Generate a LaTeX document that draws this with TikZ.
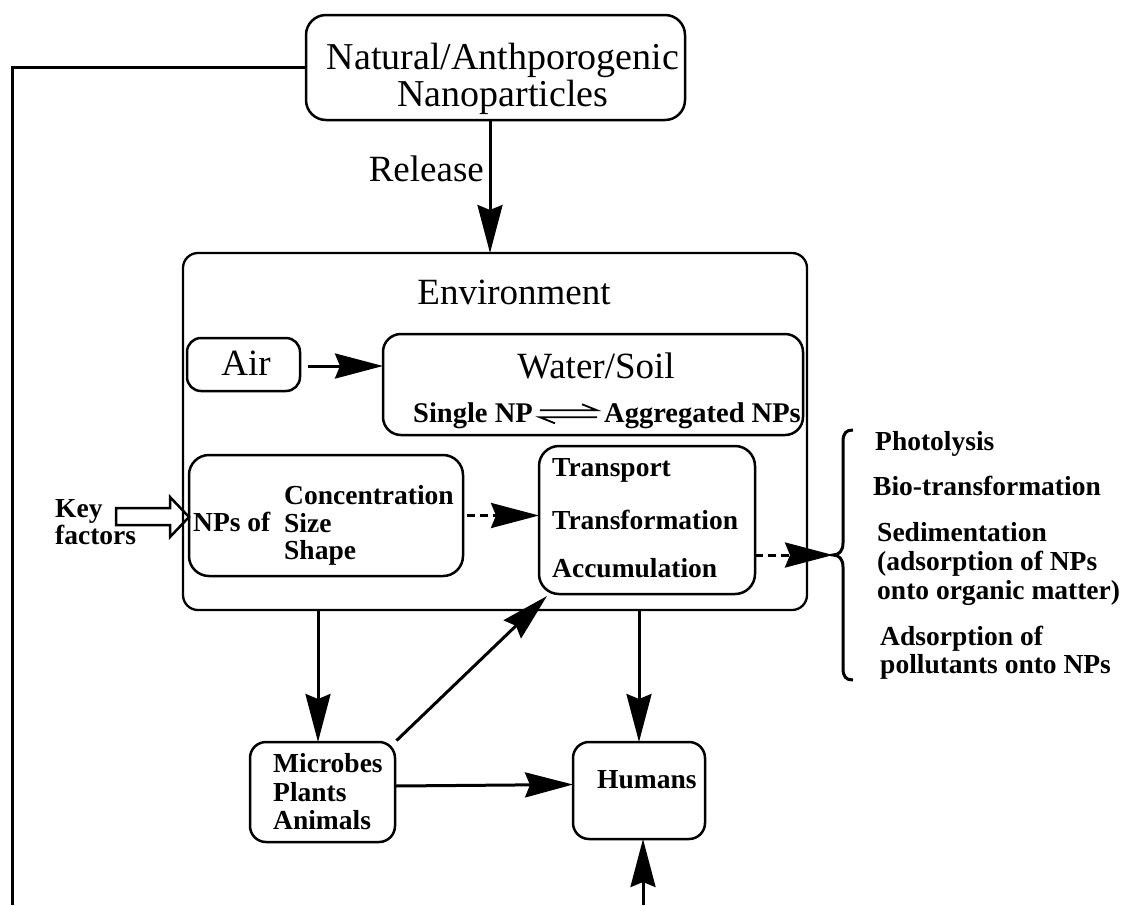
\documentclass[tikz,border=0pt]{standalone}
\usepackage{fontspec}
\setmainfont{Liberation Serif}
\usetikzlibrary{arrows.meta,calc}
\begin{document}
\begin{tikzpicture}[x=1pt,y=-1pt,
  boxn/.style={draw, line width=2.5pt, rounded corners=16pt, inner sep=0pt, outer sep=0pt},
  big/.style={font=\fontsize{37}{40}\selectfont, inner sep=0pt},
  bld/.style={font=\fontsize{27.5}{28}\selectfont\bfseries, inner sep=0pt},
  arr/.style={line width=3pt, -{Stealth[length=48pt, width=25pt, inset=5pt]}},
  darr/.style={arr, dash pattern=on 8pt off 5pt},
  plain/.style={line width=3pt}
]
\useasboundingbox (0,0) rectangle (1126,905);

% boxes
\node[boxn, minimum width=379pt, minimum height=105pt, rounded corners=20pt] (top) at (495.5,67.5) {};
\node[boxn, minimum width=624pt, minimum height=357pt, line width=2.3pt, rounded corners=15pt] (env) at (495,431.5) {};
\node[boxn, minimum width=113pt, minimum height=53pt, rounded corners=14pt] (air) at (243.5,364.5) {};
\node[boxn, minimum width=420pt, minimum height=101pt, rounded corners=18pt] (water) at (593,384.5) {};
\node[boxn, minimum width=274pt, minimum height=121pt, rounded corners=20pt] (nps) at (326,515.5) {};
\node[boxn, minimum width=216pt, minimum height=148pt, rounded corners=20pt] (trans) at (647,520) {};
\node[boxn, minimum width=145pt, minimum height=100pt, rounded corners=16pt] (mic) at (322.5,792) {};
\node[boxn, minimum width=132pt, minimum height=97pt, rounded corners=16pt] (hum) at (639,790.5) {};

% texts
\node[big, font=\fontsize{38}{37}\selectfont, align=center] (toptext) at (503,79) {Natural/Anthporogenic\\Nanoparticles};
\node[big, anchor=base east] (rel) at (484,181) {Release};
\node[big, anchor=base] (envt) at (514,304) {Environment};
\node[big, anchor=base] (airt) at (246,375) {Air};
\node[big, anchor=base] (watt) at (596,378) {Water/Soil};
\node[bld, font=\fontsize{28.5}{29}\selectfont\bfseries, anchor=base west] (sing) at (413,422) {Single NP};
\node[bld, font=\fontsize{28.5}{29}\selectfont\bfseries, anchor=base east] (aggr) at (801,422) {Aggregated NPs};
\node[bld, anchor=base west] (npsof) at (193,531) {NPs of};
\node[bld, anchor=base west] (conc) at (284,504) {Concentration};
\node[bld, anchor=base west] (size) at (284,532) {Size};
\node[bld, anchor=base west] (shape) at (284,559) {Shape};
\node[bld, anchor=base west] (key) at (55,517) {Key};
\node[bld, anchor=base west] (fact) at (55,544) {factors};
\node[bld, anchor=base west] (tr1) at (552,476) {Transport};
\node[bld, anchor=base west] (tr2) at (552,529) {Transformation};
\node[bld, anchor=base west] (tr3) at (552,577) {Accumulation};
\node[bld, anchor=base west] (m1) at (273,772) {Microbes};
\node[bld, anchor=base west] (m2) at (273,801) {Plants};
\node[bld, anchor=base west] (m3) at (273,829) {Animals};
\node[bld, anchor=base west] (humt) at (597,788) {Humans};
\node[bld, anchor=base west] (r1) at (875,450) {Photolysis};
\node[bld, anchor=base west] (r2) at (873,495) {Bio-transformation};
\node[bld, anchor=base west] (r3) at (877,541) {Sedimentation};
\node[bld, anchor=base west] (r4) at (877,570) {(adsorption of NPs};
\node[bld, anchor=base west] (r5) at (877,599) {onto organic matter)};
\node[bld, anchor=base west] (r6) at (880,645) {Adsorption of};
\node[bld, anchor=base west] (r7) at (880,673) {pollutants onto NPs};

% coordinates
\coordinate (leftbot) at (12,905);
\coordinate (relx) at (490,0);
\coordinate (micx) at (318,0);
\coordinate (humbot) at (643,905);
\coordinate (bracetip) at (833,555);

% connectors
\draw[plain] (top.west) -| (leftbot);
\draw[arr] (top.south -| relx) -- (env.north -| relx);
\draw[arr, shorten <=8pt] (air.east |- 0,366) -- (water.west |- 0,366);
\draw[arr] (env.south -| micx) -- (mic.north -| micx);
\draw[arr] (env.south -| hum.north) -- (hum.north);
\draw[arr] ([yshift=6pt]mic.east) -- ([yshift=6pt]hum.west);
\draw[arr, shorten <=2pt] (mic.north east) -- ([xshift=8pt,yshift=-2pt]trans.south west);
\draw[arr] (humbot) -- (humbot |- hum.south);
\draw[darr, shorten <=4pt] (nps.east) -- (trans.west |- nps.east);
\draw[darr] (trans.east |- bracetip) -- (bracetip);

% equilibrium harpoons
\draw[line width=1.8pt] ([xshift=7pt,yshift=5pt]sing.east) -- ([xshift=-7pt,yshift=5pt]aggr.west)
  -- ++(-15pt,6pt);
\draw[line width=1.8pt] ([xshift=-7pt,yshift=-2pt]aggr.west) -- ([xshift=7pt,yshift=-2pt]sing.east)
  -- ++(15pt,-6pt);

% hollow key-factor arrow
\draw[line width=2.5pt, line join=miter] (116,508) -- (170,508) -- (170,497) -- (nps.west |- 0,517) -- (170,537) -- (170,525) -- (116,525) -- cycle;

% brace
\draw[line width=3pt] (853,430) .. controls (846,430) and (843,433) .. (843,442) -- (843,543)
  .. controls (843,551) and (839,555) .. (bracetip)
  .. controls (839,555) and (843,559) .. (843,567) -- (843,668)
  .. controls (843,677) and (846,680) .. (853,680);
\end{tikzpicture}
\end{document}
